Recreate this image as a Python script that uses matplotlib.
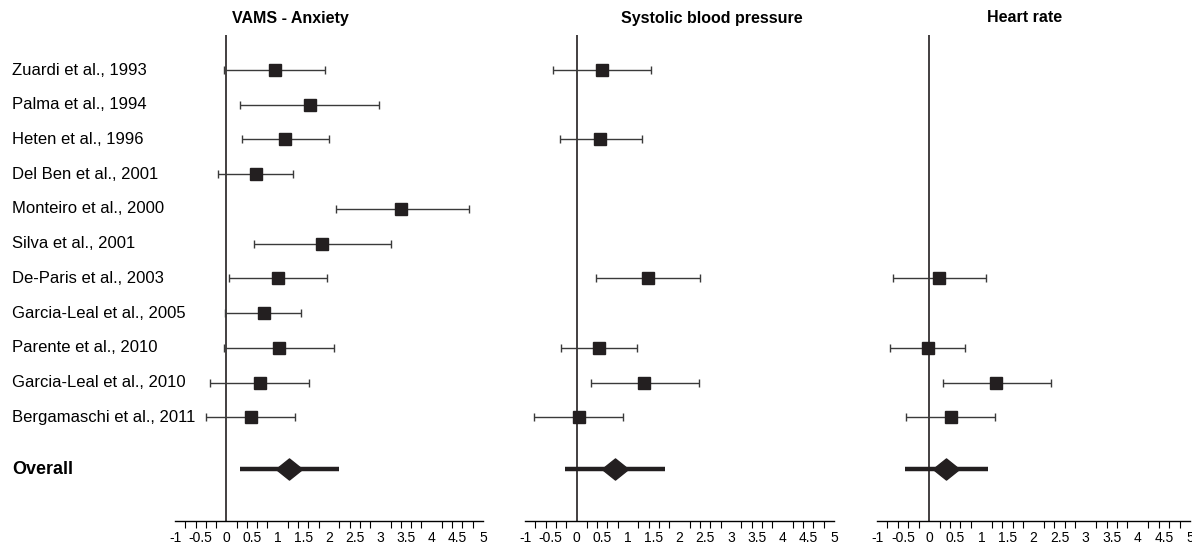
import matplotlib
matplotlib.use("Agg")
import matplotlib.pyplot as plt
import numpy as np
from matplotlib.path import Path
from matplotlib.ticker import MultipleLocator, FormatStrFormatter
from matplotlib.transforms import blended_transform_factory

plt.rcParams['font.family'] = ['Liberation Sans', 'DejaVu Sans']

studies = ["Zuardi et al., 1993", "Palma et al., 1994", "Heten et al., 1996",
           "Del Ben et al., 2001", "Monteiro et al., 2000", "Silva et al., 2001",
           "De-Paris et al., 2003", "Garcia-Leal et al., 2005", "Parente et al., 2010",
           "Garcia-Leal et al., 2010", "Bergamaschi et al., 2011"]
panel_titles = ["VAMS - Anxiety", "Systolic blood pressure", "Heart rate"]
nan = np.nan

# effect size, lower CI, upper CI for each study
anx_es = [0.95, 1.63, 1.15, 0.57, 3.41, 1.86, 1.01, 0.73, 1.02, 0.65, 0.48]
anx_lo = [-0.05, 0.27, 0.31, -0.16, 2.14, 0.54, 0.05, -0.03, -0.05, -0.32, -0.40]
anx_hi = [1.93, 2.98, 2.00, 1.30, 4.72, 3.20, 1.96, 1.46, 2.10, 1.61, 1.34]

sbp_es = [0.49, nan, 0.46, nan, nan, nan, 1.38, nan, 0.43, 1.31, 0.04]
sbp_lo = [-0.46, nan, -0.32, nan, nan, nan, 0.38, nan, -0.30, 0.28, -0.83]
sbp_hi = [1.45, nan, 1.27, nan, nan, nan, 2.40, nan, 1.18, 2.37, 0.90]

hr_es = [nan, nan, nan, nan, nan, nan, 0.19, nan, -0.03, 1.29, 0.42]
hr_lo = [nan, nan, nan, nan, nan, nan, -0.70, nan, -0.76, 0.27, -0.45]
hr_hi = [nan, nan, nan, nan, nan, nan, 1.08, nan, 0.69, 2.34, 1.27]

# overall: estimate, lower, upper
overall_es = [1.23, 0.74, 0.33]
overall_lo = [0.26, -0.23, -0.46]
overall_hi = [2.20, 1.71, 1.12]

panels = [(anx_es, anx_lo, anx_hi), (sbp_es, sbp_lo, sbp_hi), (hr_es, hr_lo, hr_hi)]

W, H = 1192, 547
fig = plt.figure(figsize=(W / 100, H / 100), dpi=100)

ax_px = [(175, 483), (525, 834), (877, 1190)]
top_px, bot_px = 35, 521
title_x = [290, 712, 1025]

diamond = Path([(-1, 0), (0, 0.8), (1, 0), (0, -0.8), (-1, 0)],
               [Path.MOVETO, Path.LINETO, Path.LINETO, Path.LINETO, Path.CLOSEPOLY])

ink = '#231f20'
rows = np.arange(len(studies))
overall_row = len(studies) - 1 + 1.5

axes = []
for k, (es, lo, hi) in enumerate(panels):
    x0, x1 = ax_px[k]
    ax = fig.add_axes([x0 / W, (H - bot_px) / H, (x1 - x0) / W, (bot_px - top_px) / H])
    axes.append(ax)
    es = np.array(es); lo = np.array(lo); hi = np.array(hi)
    ok = ~np.isnan(es)
    ax.errorbar(es[ok], rows[ok], xerr=[es[ok] - lo[ok], hi[ok] - es[ok]],
                fmt='s', color=ink, ecolor='#3a3a3a', elinewidth=1.0,
                capsize=3, capthick=1.0, markersize=8.5, zorder=3)
    ax.plot([overall_lo[k], overall_hi[k]], [overall_row, overall_row],
            color=ink, lw=3.2, solid_capstyle='butt', zorder=3)
    ax.plot(overall_es[k], overall_row, marker=diamond, markersize=19,
            color=ink, zorder=4)
    ax.axvline(0, color=ink, lw=1.2, zorder=2)

    ax.set_xlim(-1, 5)
    ax.set_ylim((bot_px - 70) / 34.73, (top_px - 70) / 34.73)
    for s in ['left', 'right', 'top']:
        ax.spines[s].set_visible(False)
    ax.spines['bottom'].set_linewidth(1.0)
    ax.set_yticks([])
    ax.xaxis.set_major_locator(MultipleLocator(0.5))
    ax.xaxis.set_major_formatter(FormatStrFormatter('%g'))
    ax.xaxis.set_minor_locator(MultipleLocator(0.2))
    ax.tick_params(axis='x', which='major', length=0, pad=7, labelsize=10)
    ax.tick_params(axis='x', which='minor', length=5, width=0.8)

    fig.text(title_x[k] / W, 1 - 18 / H, panel_titles[k], ha='center', va='center',
             fontsize=11.5, fontweight='bold')

trans = blended_transform_factory(fig.transFigure, axes[0].transData)
for i, name in enumerate(studies):
    axes[0].text(12 / W, i, name, transform=trans, ha='left', va='center',
                 fontsize=12, clip_on=False)
axes[0].text(12 / W, overall_row, "Overall", transform=trans, ha='left',
             va='center', fontsize=13, fontweight='bold', clip_on=False)

fig.savefig("out.png", dpi=100)
